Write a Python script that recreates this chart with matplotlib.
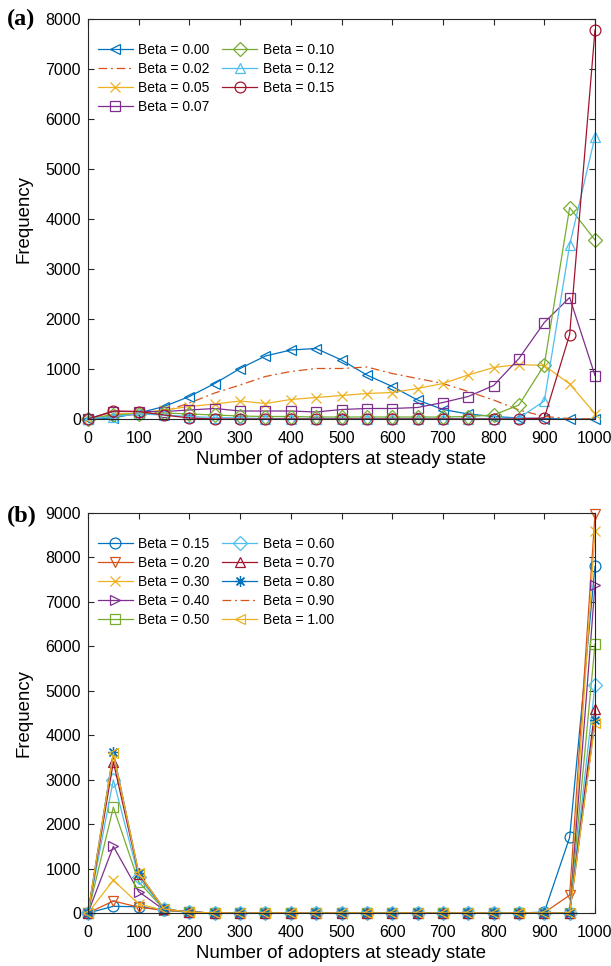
import matplotlib
matplotlib.use("Agg")
import matplotlib.pyplot as plt
import numpy as np

plt.rcParams['font.family'] = ['Liberation Sans', 'DejaVu Sans']

# ---------------- data ----------------
adopters = [0, 50, 100, 150, 200, 250, 300, 350, 400, 450, 500,
            550, 600, 650, 700, 750, 800, 850, 900, 950, 1000]
xticks = [0, 100, 200, 300, 400, 500, 600, 700, 800, 900, 1000]

# panel (a)
labels_a = ['Beta = 0.00', 'Beta = 0.02', 'Beta = 0.05', 'Beta = 0.07',
            'Beta = 0.10', 'Beta = 0.12', 'Beta = 0.15']
a_b000 = [0, 20, 120, 250, 450, 710, 1010, 1260, 1380, 1410, 1180, 880, 650, 380, 190, 100, 50, 20, 10, 0, 0]
a_b002 = [0, 50, 100, 150, 320, 520, 680, 850, 950, 1010, 1010, 1040, 910, 810, 710, 550, 380, 180, 50, 10, 0]
a_b005 = [0, 100, 120, 180, 250, 300, 360, 310, 390, 430, 470, 510, 530, 610, 710, 880, 1030, 1090, 1070, 700, 110]
a_b007 = [0, 150, 150, 150, 180, 210, 160, 160, 160, 140, 190, 210, 210, 230, 330, 450, 670, 1210, 1930, 2430, 870]
a_b010 = [0, 80, 100, 120, 100, 80, 60, 50, 50, 40, 40, 40, 40, 40, 40, 50, 80, 280, 1080, 4230, 3580]
a_b012 = [0, 50, 100, 80, 50, 30, 20, 10, 10, 10, 10, 10, 10, 10, 10, 10, 10, 20, 360, 3480, 5650]
a_b015 = [0, 160, 150, 80, 20, 0, 0, 0, 0, 0, 0, 0, 0, 0, 0, 0, 0, 0, 20, 1690, 7780]
series_a = [a_b000, a_b002, a_b005, a_b007, a_b010, a_b012, a_b015]
yticks_a = [0, 1000, 2000, 3000, 4000, 5000, 6000, 7000, 8000]

# panel (b)
labels_b = ['Beta = 0.15', 'Beta = 0.20', 'Beta = 0.30', 'Beta = 0.40', 'Beta = 0.50',
            'Beta = 0.60', 'Beta = 0.70', 'Beta = 0.80', 'Beta = 0.90', 'Beta = 1.00']
b_b015 = [0, 150, 140, 70, 20, 0, 0, 0, 0, 0, 0, 0, 0, 0, 0, 0, 0, 0, 20, 1700, 7800]
b_b020 = [0, 270, 130, 60, 20, 0, 0, 0, 0, 0, 0, 0, 0, 0, 0, 0, 0, 0, 10, 400, 8980]
b_b030 = [0, 740, 200, 60, 20, 0, 0, 0, 0, 0, 0, 0, 0, 0, 0, 0, 0, 0, 0, 0, 8600]
b_b040 = [0, 1500, 480, 70, 20, 0, 0, 0, 0, 0, 0, 0, 0, 0, 0, 0, 0, 0, 0, 0, 7380]
b_b050 = [0, 2380, 700, 80, 20, 0, 0, 0, 0, 0, 0, 0, 0, 0, 0, 0, 0, 0, 0, 0, 6050]
b_b060 = [0, 3000, 800, 80, 20, 0, 0, 0, 0, 0, 0, 0, 0, 0, 0, 0, 0, 0, 0, 0, 5130]
b_b070 = [0, 3400, 870, 90, 20, 0, 0, 0, 0, 0, 0, 0, 0, 0, 0, 0, 0, 0, 0, 0, 4600]
b_b080 = [0, 3620, 900, 90, 20, 0, 0, 0, 0, 0, 0, 0, 0, 0, 0, 0, 0, 0, 0, 0, 4340]
b_b090 = [0, 3550, 880, 90, 20, 0, 0, 0, 0, 0, 0, 0, 0, 0, 0, 0, 0, 0, 0, 0, 4300]
b_b100 = [0, 3600, 900, 90, 20, 0, 0, 0, 0, 0, 0, 0, 0, 0, 0, 0, 0, 0, 0, 0, 4270]
series_b = [b_b015, b_b020, b_b030, b_b040, b_b050, b_b060, b_b070, b_b080, b_b090, b_b100]
yticks_b = [0, 1000, 2000, 3000, 4000, 5000, 6000, 7000, 8000, 9000]

# ---------------- styles ----------------
C = ['#0072BD', '#D95319', '#EDB120', '#7E2F8E', '#77AC30', '#4DBEEE', '#A2142F']
DASHDOT = (0, (7, 3, 1.5, 3))
ASTER = (8, 2, 0)

style_a = [
    dict(color=C[0], marker='<', ls='-'),
    dict(color=C[1], marker=None, ls=DASHDOT),
    dict(color=C[2], marker='x', ls='-'),
    dict(color=C[3], marker='s', ls='-'),
    dict(color=C[4], marker='D', ls='-', ms_scale=0.85),
    dict(color=C[5], marker='^', ls='-'),
    dict(color=C[6], marker='o', ls='-'),
]
style_b = [
    dict(color=C[0], marker='o', ls='-'),
    dict(color=C[1], marker='v', ls='-'),
    dict(color=C[2], marker='x', ls='-'),
    dict(color=C[3], marker='>', ls='-'),
    dict(color=C[4], marker='s', ls='-'),
    dict(color=C[5], marker='D', ls='-', ms_scale=0.85),
    dict(color=C[6], marker='^', ls='-'),
    dict(color=C[0], marker=ASTER, ls='-'),
    dict(color=C[1], marker=None, ls=DASHDOT),
    dict(color=C[2], marker='<', ls='-'),
]

fig = plt.figure(figsize=(6.11, 9.66), dpi=100)
W, H = 611, 966
ax_a = fig.add_axes([88 / W, 1 - 419 / H, 507 / W, 400 / H])
ax_b = fig.add_axes([88 / W, 1 - 913 / H, 507 / W, 400 / H])


def draw(ax, series, styles, labels, ylim, yticks):
    for y, st, lab in zip(series, styles, labels):
        ms = 7.8 * st.get('ms_scale', 1.0)
        ax.plot(adopters, y, color=st['color'], linestyle=st['ls'], lw=0.9,
                marker=st['marker'], ms=ms, mfc='none', mec=st['color'], mew=0.9,
                label=lab, clip_on=False)
    ax.set_xlim(0, 1000)
    ax.set_ylim(*ylim)
    ax.set_xticks(xticks)
    ax.set_yticks(yticks)
    ax.tick_params(direction='in', top=True, right=True, length=4, width=0.8,
                   labelsize=11.5, colors='#262626', labelcolor='black')
    ax.tick_params(axis='x', pad=8.5)
    ax.tick_params(axis='y', pad=5)
    for sp in ax.spines.values():
        sp.set_color('#262626')
        sp.set_linewidth(0.8)
    ax.set_xlabel('Number of adopters at steady state', fontsize=13.4, labelpad=4)
    ax.set_ylabel('Frequency', fontsize=13.4, labelpad=9)
    leg = ax.legend(ncol=2, loc='upper left', bbox_to_anchor=(0.009, 0.955),
                    frameon=False, fontsize=10, handlelength=2.5,
                    handletextpad=0.4, columnspacing=0.9, labelspacing=0.36,
                    borderaxespad=0)
    return leg


draw(ax_a, series_a, style_a, labels_a, (0, 8000), yticks_a)
draw(ax_b, series_b, style_b, labels_b, (0, 9000), yticks_b)

fig.text(7 / W, 1 - 19 / H, '(a)', family='Liberation Serif', fontweight='bold',
         fontsize=17.5, va='center', ha='left')
fig.text(7 / W, 1 - 516 / H, '(b)', family='Liberation Serif', fontweight='bold',
         fontsize=17.5, va='center', ha='left')

fig.savefig('out.png', dpi=100)
